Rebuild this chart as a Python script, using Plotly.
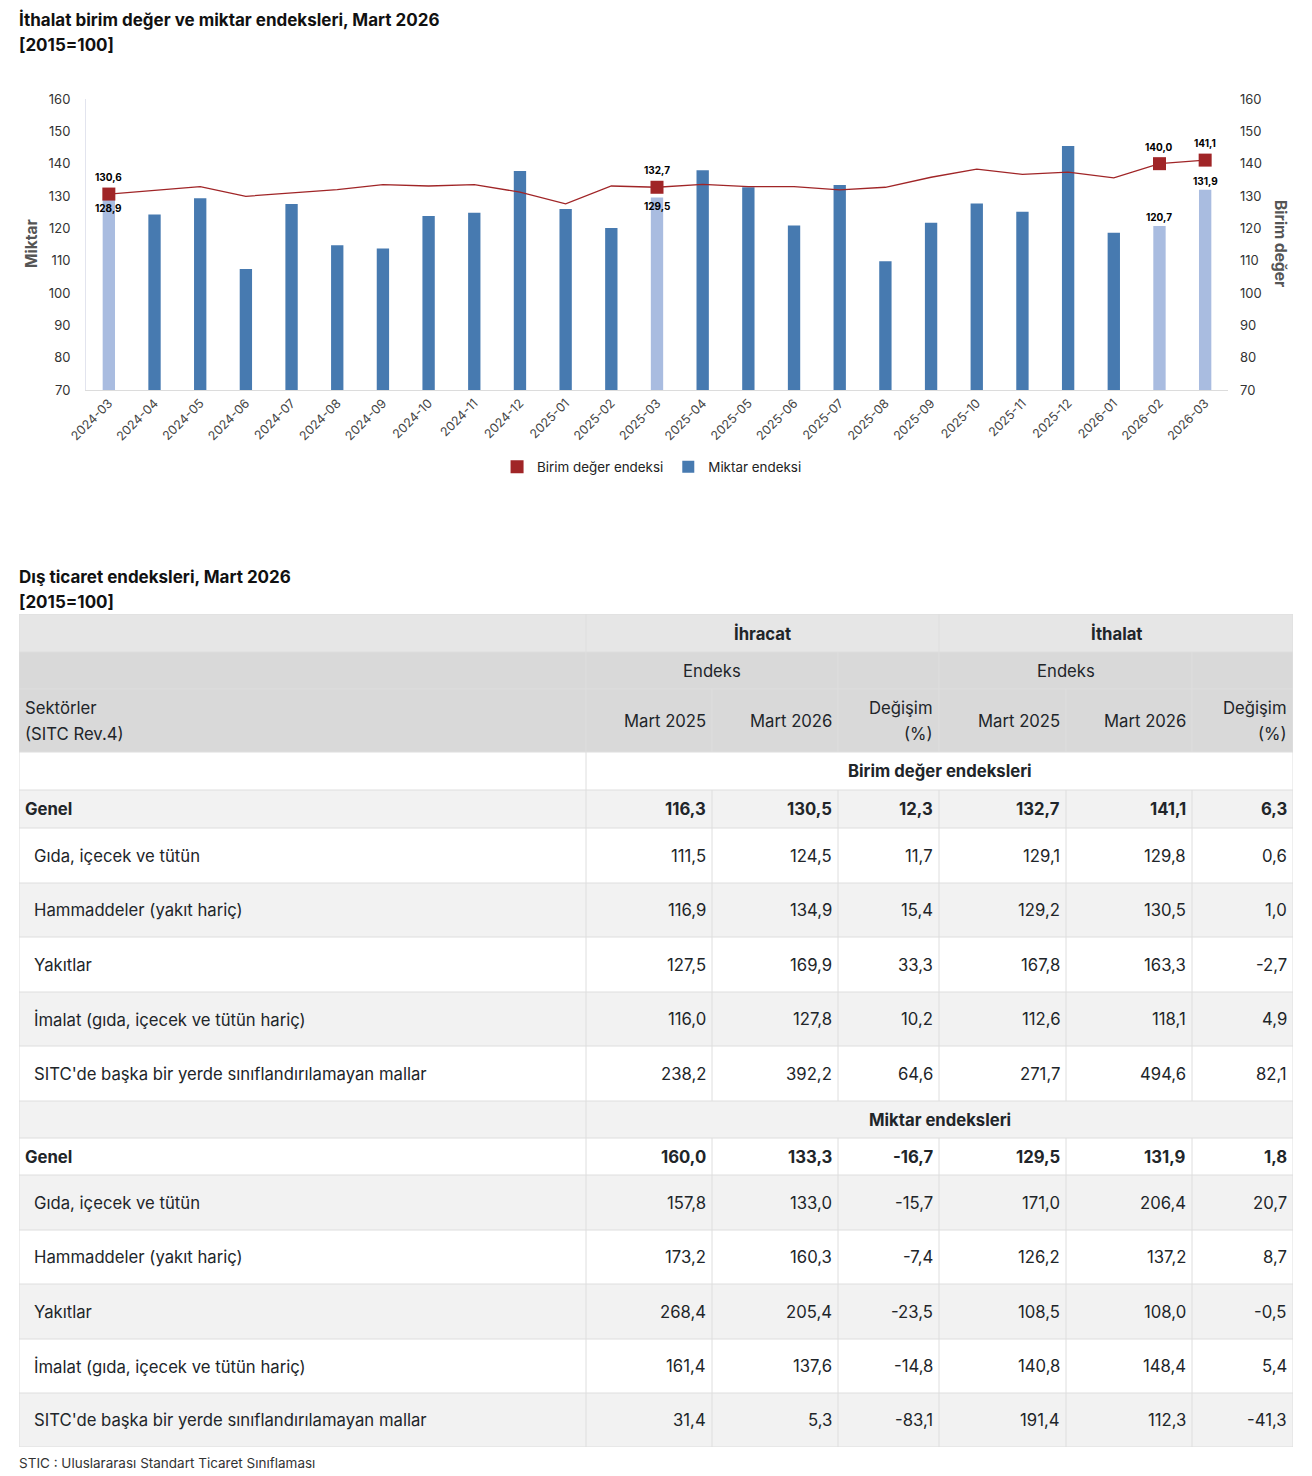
import plotly.graph_objects as go

W, H = 1312, 1476

# ---------------- Chart data ----------------
months = ["2024-03", "2024-04", "2024-05", "2024-06", "2024-07", "2024-08", "2024-09",
          "2024-10", "2024-11", "2024-12", "2025-01", "2025-02", "2025-03", "2025-04",
          "2025-05", "2025-06", "2025-07", "2025-08", "2025-09", "2025-10", "2025-11",
          "2025-12", "2026-01", "2026-02", "2026-03"]
miktar = [128.9, 124.3, 129.3, 107.4, 127.5, 114.8, 113.8, 123.8, 124.8, 137.7, 126.0,
          120.1, 129.5, 138.0, 132.7, 120.9, 133.4, 109.8, 121.7, 127.7, 125.1, 145.5,
          118.6, 120.7, 131.9]
birim = [130.6, 131.8, 132.9, 129.9, 131.0, 132.0, 133.5, 133.1, 133.5, 131.2, 127.6,
         133.1, 132.7, 133.6, 132.9, 132.9, 131.9, 132.7, 135.8, 138.3, 136.7, 137.4,
         135.6, 140.0, 141.1]
highlight = ["2024-03", "2025-03", "2026-02", "2026-03"]
y_ticks = [70, 80, 90, 100, 110, 120, 130, 140, 150, 160]

# ---------------- Table data ----------------
sectors = ["Gıda, içecek ve tütün", "Hammaddeler (yakıt hariç)", "Yakıtlar",
           "İmalat (gıda, içecek ve tütün hariç)",
           "SITC'de başka bir yerde sınıflandırılamayan mallar"]
# Birim değer endeksleri: Genel + sectors
bd_ihr_2025 = [116.3, 111.5, 116.9, 127.5, 116.0, 238.2]
bd_ihr_2026 = [130.5, 124.5, 134.9, 169.9, 127.8, 392.2]
bd_ihr_chg = [12.3, 11.7, 15.4, 33.3, 10.2, 64.6]
bd_ith_2025 = [132.7, 129.1, 129.2, 167.8, 112.6, 271.7]
bd_ith_2026 = [141.1, 129.8, 130.5, 163.3, 118.1, 494.6]
bd_ith_chg = [6.3, 0.6, 1.0, -2.7, 4.9, 82.1]
# Miktar endeksleri: Genel + sectors
mk_ihr_2025 = [160.0, 157.8, 173.2, 268.4, 161.4, 31.4]
mk_ihr_2026 = [133.3, 133.0, 160.3, 205.4, 137.6, 5.3]
mk_ihr_chg = [-16.7, -15.7, -7.4, -23.5, -14.8, -83.1]
mk_ith_2025 = [129.5, 171.0, 126.2, 108.5, 140.8, 191.4]
mk_ith_2026 = [131.9, 206.4, 137.2, 108.0, 148.4, 112.3]
mk_ith_chg = [1.8, 20.7, 8.7, -0.5, 5.4, -41.3]

# ---------------- Styles ----------------
FONT = "Inter, 'Noto Sans', sans-serif"
DARK_BLUE = "#477AB0"
LIGHT_BLUE = "#A9BCE0"
RED = "#A02527"
TXT = "#212529"
GRID = "#dedede"
TABLE_FS = 16.7


def fmt(v):
    return f"{v:.1f}".replace(".", ",")


fig = go.Figure()

dark_x = [m for m in months if m not in highlight]
dark_y = [v for m, v in zip(months, miktar) if m not in highlight]
light_x = [m for m in months if m in highlight]
light_y = [v for m, v in zip(months, miktar) if m in highlight]
hl_birim = [v for m, v in zip(months, birim) if m in highlight]

fig.add_trace(go.Bar(x=dark_x, y=dark_y, name="Miktar endeksi", marker_color=DARK_BLUE,
                     marker_line_width=0, width=0.27, legendrank=2, yaxis="y", xaxis="x"))
fig.add_trace(go.Bar(x=light_x, y=light_y, name="Miktar endeksi", marker_color=LIGHT_BLUE,
                     marker_line_width=0, width=0.27, showlegend=False, yaxis="y", xaxis="x"))
fig.add_trace(go.Scatter(x=months, y=birim, mode="lines", line=dict(color=RED, width=1.3),
                         showlegend=False, yaxis="y2", xaxis="x"))
fig.add_trace(go.Scatter(x=light_x, y=hl_birim, mode="markers", name="Birim değer endeksi",
                         marker=dict(symbol="square", size=13, color=RED),
                         legendrank=1, yaxis="y2", xaxis="x"))

annotations = []

# data labels on chart
bar_label_shift = {"2024-03": -8, "2025-03": -8, "2026-02": 9, "2026-03": 9}
for m, v in zip(light_x, light_y):
    annotations.append(dict(x=m, y=v, xref="x", yref="y", text=f"<b>{fmt(v)}</b>",
                            showarrow=False, yshift=bar_label_shift[m], yanchor="middle",
                            xanchor="center",
                            font=dict(family=FONT, size=10, color="#000")))
for m, v in zip(light_x, hl_birim):
    annotations.append(dict(x=m, y=v, xref="x", yref="y2", text=f"<b>{fmt(v)}</b>",
                            showarrow=False, yshift=17, yanchor="middle", xanchor="center",
                            font=dict(family=FONT, size=10, color="#000")))


def page_text(txt, x, y, size, bold=False, color="#111", xanchor="left"):
    annotations.append(dict(x=x / W, y=1 - y / H, xref="paper", yref="paper",
                            text=f"<b>{txt}</b>" if bold else txt, showarrow=False,
                            xanchor=xanchor, yanchor="middle", xshift=-2,
                            font=dict(family=FONT, size=size, color=color)))


page_text("İthalat birim değer ve miktar endeksleri, Mart 2026", 19, 20, 17, True)
page_text("[2015=100]", 19, 45, 17, True)
page_text("Dış ticaret endeksleri, Mart 2026", 19, 577, 17, True)
page_text("[2015=100]", 19, 602, 17, True)
page_text("STIC : Uluslararası Standart Ticaret Sınıflaması", 19, 1463, 13.5, False, "#333")

# axis titles (rotated)
annotations.append(dict(x=31 / W, y=1 - 244 / H, xref="paper", yref="paper",
                        text="<b>Miktar</b>", textangle=-90, showarrow=False,
                        xanchor="center", yanchor="middle",
                        font=dict(family=FONT, size=15.5, color="#555")))
annotations.append(dict(x=1281 / W, y=1 - 244 / H, xref="paper", yref="paper",
                        text="<b>Birim değer</b>", textangle=90, showarrow=False,
                        xanchor="center", yanchor="middle",
                        font=dict(family=FONT, size=15.5, color="#555")))

# ---------------- Table ----------------
col_widths = [567, 126, 126, 101, 127, 126, 101]
row_heights = [38, 37, 63, 38, 38, 55, 54, 55, 54, 55, 37, 37, 55, 54, 55, 54, 54]
xb = [0]
for w in col_widths:
    xb.append(xb[-1] + w)
yb = [0]
for h in row_heights:
    yb.append(yb[-1] + h)
TW, TH = xb[-1], yb[-1]

row_fill = ["#e6e6e6", "#d9d9d9", "#d9d9d9"]
for r in range(3, len(row_heights)):
    row_fill.append("#ffffff" if (r - 3) % 2 == 0 else "#f2f2f2")

shapes = []
for r, f in enumerate(row_fill):
    shapes.append(dict(type="rect", xref="x3", yref="y3", x0=0, x1=TW, y0=yb[r], y1=yb[r + 1],
                       fillcolor=f, line=dict(width=0), layer="below"))
for y in yb:
    shapes.append(dict(type="line", xref="x3", yref="y3", x0=0, x1=TW, y0=y, y1=y,
                       line=dict(color=GRID, width=1)))
section_rows = [3, 10]
for r in range(len(row_heights)):
    if r == 0:
        cols = [0, 1, 4, 7]
    elif r == 1:
        cols = [0, 1, 3, 4, 6, 7]
    elif r in section_rows:
        cols = [0, 1, 7]
    else:
        cols = list(range(8))
    for c in cols:
        shapes.append(dict(type="line", xref="x3", yref="y3", x0=xb[c], x1=xb[c],
                           y0=yb[r], y1=yb[r + 1], line=dict(color=GRID, width=1)))


def cell(txt, x, r, xanchor, xshift=0, dy=0, bold=False, size=TABLE_FS):
    annotations.append(dict(x=x, y=(yb[r] + yb[r + 1]) / 2, xref="x3", yref="y3",
                            text=f"<b>{txt}</b>" if bold else txt, showarrow=False,
                            xanchor=xanchor, yanchor="middle", xshift=xshift, yshift=-dy,
                            font=dict(family=FONT, size=size, color=TXT)))


cell("İhracat", (xb[1] + xb[4]) / 2, 0, "center", bold=True)
cell("İthalat", (xb[4] + xb[7]) / 2, 0, "center", bold=True)
cell("Endeks", (xb[1] + xb[3]) / 2, 1, "center")
cell("Endeks", (xb[4] + xb[6]) / 2, 1, "center")
cell("Sektörler", xb[0], 2, "left", 4, -13)
cell("(SITC Rev.4)", xb[0], 2, "left", 4, 13)
for c, lab in [(1, "Mart 2025"), (2, "Mart 2026"), (4, "Mart 2025"), (5, "Mart 2026")]:
    cell(lab, xb[c + 1], 2, "right", -4)
for c in [3, 6]:
    cell("Değişim", xb[c + 1], 2, "right", -4, -13)
    cell("(%)", xb[c + 1], 2, "right", -4, 13)

cell("Birim değer endeksleri", (xb[1] + xb[7]) / 2, 3, "center", bold=True)
cell("Miktar endeksleri", (xb[1] + xb[7]) / 2, 10, "center", bold=True)

blocks = [
    (4, [bd_ihr_2025, bd_ihr_2026, bd_ihr_chg, bd_ith_2025, bd_ith_2026, bd_ith_chg]),
    (11, [mk_ihr_2025, mk_ihr_2026, mk_ihr_chg, mk_ith_2025, mk_ith_2026, mk_ith_chg]),
]
row_labels = ["Genel"] + sectors
for start, cols in blocks:
    for i, lab in enumerate(row_labels):
        r = start + i
        bold = i == 0
        cell(lab, xb[0], r, "left", 4 if bold else 13, bold=bold)
        for c, arr in enumerate(cols, start=1):
            cell(fmt(arr[i]), xb[c + 1], r, "right", -4, bold=bold)

fig.update_layout(
    width=W, height=H,
    margin=dict(l=0, r=0, t=0, b=0, pad=0, autoexpand=False),
    paper_bgcolor="white", plot_bgcolor="rgba(0,0,0,0)",
    barmode="overlay",
    font=dict(family=FONT, color="#333"),
    showlegend=True,
    legend=dict(orientation="h", x=0.497, xanchor="center", y=1 - 467 / H, yanchor="middle",
                font=dict(family=FONT, size=13.4, color="#222"), itemwidth=30,
                bgcolor="rgba(0,0,0,0)"),
    xaxis=dict(domain=[86 / W, 1228 / W], anchor="y", type="category",
               categoryorder="array", categoryarray=months, range=[-0.5, len(months) - 0.5],
               tickangle=-45, automargin=False,
               tickfont=dict(family=FONT, size=12.5, color="#444"),
               showline=True, linecolor="#dcdcdc", linewidth=1, ticks="", showgrid=False,
               fixedrange=True),
    yaxis=dict(domain=[1 - 390 / H, 1 - 99 / H], anchor="x", range=[70, 160],
               tickvals=y_ticks, showline=True, linecolor="#e2e4ee", linewidth=1,
               showgrid=False, zeroline=False, ticks="", ticklabelstandoff=12,
               automargin=False,
               tickfont=dict(family=FONT, size=13, color="#333"), fixedrange=True),
    yaxis2=dict(overlaying="y", side="right", anchor="x", range=[70, 160], tickvals=y_ticks,
                showline=False, showgrid=False, zeroline=False, ticks="",
                ticklabelstandoff=11, automargin=False,
                tickfont=dict(family=FONT, size=13, color="#333"), fixedrange=True),
    xaxis3=dict(domain=[19 / W, (19 + TW) / W], anchor="y3", range=[0, TW], visible=False,
                automargin=False, fixedrange=True),
    yaxis3=dict(domain=[1 - (614 + TH) / H, 1 - 614 / H], anchor="x3", range=[TH, 0],
                visible=False, automargin=False, fixedrange=True),
    shapes=shapes,
    annotations=annotations,
)

fig.write_html("out.html", config={"displayModeBar": False},
               post_script="document.body.style.margin='0';document.body.style.overflow='hidden';")
